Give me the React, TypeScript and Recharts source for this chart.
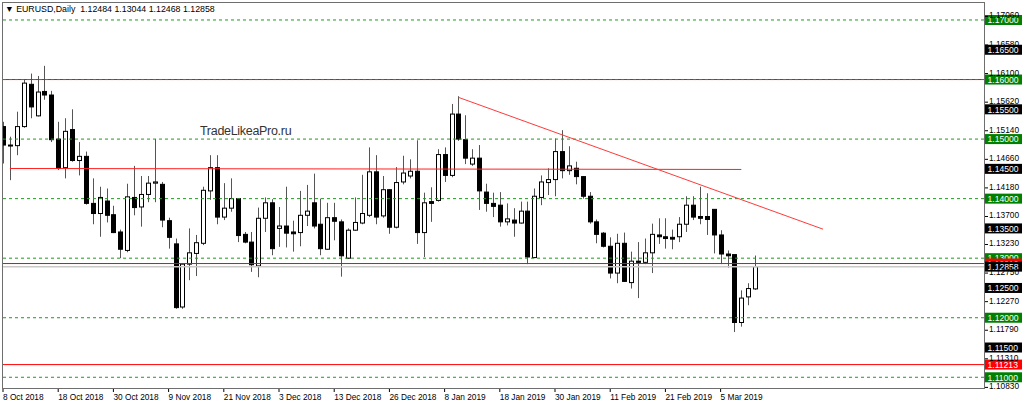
import React from 'react';
import { Bar, ComposedChart, ReferenceLine, XAxis, YAxis } from 'recharts';

// EURUSD daily, 8 Oct 2018 .. 12 Mar 2019
const opens = [
  1.1521, 1.1490, 1.1489, 1.1521, 1.1592, 1.1539, 1.1580, 1.1574, 1.1500, 1.1452,
  1.1516, 1.1464, 1.1471, 1.1392, 1.1375, 1.1396, 1.1373, 1.1344, 1.1313, 1.1402,
  1.1386, 1.1407, 1.1426, 1.1424, 1.1363, 1.1324, 1.1218, 1.1290, 1.1308, 1.1325,
  1.1413, 1.1452, 1.1369, 1.1384, 1.1400, 1.1340, 1.1327, 1.1287, 1.1367, 1.1393,
  1.1350, 1.1354, 1.1344, 1.1343, 1.1372, 1.1393, 1.1357, 1.1315, 1.1368, 1.1361,
  1.1300, 1.1347, 1.1359, 1.1372, 1.1445, 1.1371, 1.1415, 1.1352, 1.1428, 1.1438,
  1.1446, 1.1343, 1.1395, 1.1397, 1.1474, 1.1439, 1.1542, 1.1499, 1.1458, 1.1468,
  1.1411, 1.1392, 1.1389, 1.1361, 1.1364, 1.1359, 1.1379, 1.1301, 1.1402, 1.1427,
  1.1432, 1.1479, 1.1447, 1.1451, 1.1437, 1.1404, 1.1361, 1.1342, 1.1320, 1.1275,
  1.1325, 1.1259, 1.1295, 1.1293, 1.1309, 1.1339, 1.1336, 1.1335, 1.1336, 1.1357,
  1.1389, 1.1370, 1.1370, 1.1382, 1.1339, 1.1307, 1.1306, 1.1192, 1.1235, 1.12484,
];
const highs = [
  1.1529, 1.1504, 1.1546, 1.1600, 1.1610, 1.1606, 1.1623, 1.1581, 1.1529, 1.1535,
  1.1550, 1.1495, 1.1479, 1.1434, 1.1420, 1.1417, 1.1388, 1.1348, 1.1425, 1.1455,
  1.1438, 1.1438, 1.1500, 1.1428, 1.1368, 1.1333, 1.1291, 1.1350, 1.1339, 1.1420,
  1.1473, 1.1473, 1.1426, 1.1434, 1.1401, 1.1344, 1.1344, 1.1385, 1.1402, 1.1399,
  1.1386, 1.1420, 1.1363, 1.1413, 1.1423, 1.1442, 1.1400, 1.1393, 1.1393, 1.1365,
  1.1350, 1.1402, 1.1440, 1.1486, 1.1473, 1.1438, 1.1416, 1.1453, 1.1472, 1.1466,
  1.1498, 1.1410, 1.1419, 1.1483, 1.1486, 1.1559, 1.1572, 1.1540, 1.1483, 1.1490,
  1.1425, 1.1410, 1.1411, 1.1392, 1.1384, 1.1395, 1.1395, 1.1417, 1.1439, 1.1451,
  1.1501, 1.1515, 1.1488, 1.1462, 1.1438, 1.1411, 1.1365, 1.1344, 1.1335, 1.1341,
  1.1343, 1.1311, 1.1327, 1.1333, 1.1358, 1.1367, 1.1367, 1.1348, 1.1369, 1.1404,
  1.1404, 1.1420, 1.1409, 1.1382, 1.1347, 1.1313, 1.1306, 1.1246, 1.1258, 1.13044,
];
const lows = [
  1.1459, 1.1431, 1.1473, 1.1519, 1.1535, 1.1538, 1.1566, 1.1495, 1.1448, 1.1434,
  1.1462, 1.1439, 1.1390, 1.1357, 1.1336, 1.1360, 1.1342, 1.1300, 1.1310, 1.1372,
  1.1353, 1.1394, 1.1394, 1.1352, 1.1316, 1.1215, 1.1215, 1.1263, 1.1270, 1.1322,
  1.1398, 1.1357, 1.1364, 1.1378, 1.1327, 1.1325, 1.1277, 1.1268, 1.1344, 1.1305,
  1.1319, 1.1318, 1.1311, 1.1320, 1.1354, 1.1350, 1.1305, 1.1314, 1.1330, 1.1269,
  1.1299, 1.1346, 1.1357, 1.1369, 1.1357, 1.1368, 1.1341, 1.1350, 1.1424, 1.1434,
  1.1324, 1.1302, 1.1361, 1.1395, 1.1428, 1.1436, 1.1497, 1.1458, 1.1455, 1.1381,
  1.1378, 1.1369, 1.1353, 1.1355, 1.1336, 1.1358, 1.1290, 1.1300, 1.1389, 1.1406,
  1.1404, 1.1434, 1.1440, 1.1424, 1.1400, 1.1358, 1.1325, 1.1318, 1.1266, 1.1258,
  1.1260, 1.1249, 1.1233, 1.1290, 1.1275, 1.1324, 1.1316, 1.1315, 1.1327, 1.1344,
  1.1364, 1.1357, 1.1339, 1.1308, 1.1290, 1.1284, 1.1176, 1.1185, 1.1221, 1.12468,
];
const closes = [
  1.1490, 1.1489, 1.1521, 1.1594, 1.1554, 1.1579, 1.1574, 1.1499, 1.1451, 1.1513,
  1.1464, 1.1471, 1.1392, 1.1375, 1.1402, 1.1372, 1.1343, 1.1315, 1.1403, 1.1385,
  1.1407, 1.1426, 1.1428, 1.1364, 1.1335, 1.1217, 1.1290, 1.1309, 1.1326, 1.1414,
  1.1452, 1.1369, 1.1384, 1.1400, 1.1338, 1.1327, 1.1289, 1.1367, 1.1393, 1.1316,
  1.1354, 1.1342, 1.1341, 1.1372, 1.1379, 1.1354, 1.1316, 1.1368, 1.1362, 1.1304,
  1.1347, 1.1360, 1.1375, 1.1445, 1.1369, 1.1415, 1.1352, 1.1427, 1.1443, 1.1446,
  1.1343, 1.1393, 1.1392, 1.1474, 1.1439, 1.1542, 1.1500, 1.1468, 1.1468, 1.1413,
  1.1392, 1.1387, 1.1361, 1.1366, 1.1359, 1.1379, 1.1302, 1.1404, 1.1428, 1.1432,
  1.1479, 1.1447, 1.1455, 1.1437, 1.1404, 1.1361, 1.1340, 1.1320, 1.1275, 1.1325,
  1.1261, 1.1295, 1.1293, 1.1309, 1.1340, 1.1336, 1.1333, 1.1332, 1.1357, 1.1389,
  1.1369, 1.1367, 1.1365, 1.1339, 1.1307, 1.1304, 1.1192, 1.1233, 1.1249, 1.12858,
];

const dateTicks = [0, 8, 16, 24, 32, 40, 48, 56, 64, 72, 80, 88, 96, 104];
const dateLabels = [
  '8 Oct 2018', '18 Oct 2018', '30 Oct 2018', '9 Nov 2018', '21 Nov 2018', '3 Dec 2018', '13 Dec 2018',
  '26 Dec 2018', '8 Jan 2019', '18 Jan 2019', '30 Jan 2019', '11 Feb 2019', '21 Feb 2019', '5 Mar 2019',
];

const priceTicks = [1.1706, 1.1658, 1.161, 1.1562, 1.1514, 1.1466, 1.1418, 1.137, 1.1323, 1.1275, 1.1227, 1.1179, 1.1131, 1.1083];
const greenLevels = [1.17, 1.16, 1.15, 1.14, 1.13, 1.12, 1.11];
const blackTags = [1.165, 1.155, 1.145, 1.135, 1.125, 1.115];
const redLevels = [1.1291, 1.11213];
const resistance = 1.16;
const lastPrice = 1.12858;
const trendLine = [{ x: 66, y: 1.15701 }, { x: 118.84, y: 1.13487 }];
const flatLine = [{ x: 1, y: 1.14506 }, { x: 107, y: 1.1449 }];

const candles = opens.map((open, i) => ({
  i,
  open,
  high: highs[i],
  low: lows[i],
  close: closes[i],
  range: [lows[i], highs[i]],
}));

const FONT = '"Liberation Sans", Arial, sans-serif';

const Candle = (props: any) => {
  const { x, y, width, height, payload } = props;
  const { open, close, high, low } = payload;
  const cx = Math.round(x + width / 2) + 0.5;
  const k = height / (high - low);
  const yo = y + (high - open) * k;
  const yc = y + (high - close) * k;
  const top = Math.min(yo, yc);
  const h = Math.max(Math.abs(yo - yc), 1);
  const up = close >= open;
  return (
    <g>
      <line x1={cx} x2={cx} y1={y} y2={y + height} stroke="#555" strokeWidth={1} />
      <rect x={cx - 2} y={top} width={4} height={h} fill={up ? '#fff' : '#000'} stroke="#000" strokeWidth={1} />
    </g>
  );
};

const PriceTag = (props: any) => {
  const { viewBox, fill, text } = props;
  if (!viewBox) return null;
  const x = viewBox.x + viewBox.width + 1;
  const y = viewBox.y;
  return (
    <g>
      <rect x={x} y={y - 5} width={37} height={10} fill={fill} />
      <text x={x + 2.5} y={y + 3.3} fill="#fff" fontSize={8.6} fontFamily={FONT}>{text}</text>
    </g>
  );
};

const DateTick = (props: any) => {
  const { x, payload } = props;
  const idx = dateTicks.indexOf(payload.value);
  return (
    <g>
      <line x1={x} x2={x} y1={388} y2={392} stroke="#000" />
      <text x={x} y={400} fontSize={8.3} fontFamily={FONT} fill="#000">{dateLabels[idx]}</text>
    </g>
  );
};

const PriceTick = (props: any) => {
  const { y, payload } = props;
  const ty = Math.min(y + 2, 389);
  return (
    <g>
      <line x1={984} x2={988} y1={y} y2={y} stroke="#000" />
      <text x={989} y={ty} fontSize={8.3} fontFamily={FONT} fill="#000">{payload.value.toFixed(5)}</text>
    </g>
  );
};

export default function App() {
  return (
    <div style={{ position: 'fixed', left: 0, top: 0, width: 1024, height: 407, background: '#fff', fontFamily: FONT }}>
      <ComposedChart width={1024} height={407} data={candles} margin={{ top: 2, right: 0, bottom: 0, left: 3 }}>
        <XAxis
          dataKey="i"
          type="number"
          domain={[0, 142.17]}
          allowDataOverflow
          ticks={dateTicks}
          interval={0}
          tick={<DateTick />}
          tickLine={false}
          axisLine={false}
          height={19}
        />
        <YAxis
          orientation="right"
          type="number"
          domain={[1.1082, 1.17302]}
          allowDataOverflow
          ticks={priceTicks}
          interval={0}
          tick={<PriceTick />}
          tickLine={false}
          axisLine={false}
          width={40}
        />
        <ReferenceLine y={resistance} stroke="#ff0000" strokeWidth={1} />
        {redLevels.map((p) => (
          <ReferenceLine key={'r' + p} y={p} stroke="#ff0000" strokeWidth={1} />
        ))}
        <ReferenceLine y={lastPrice} stroke="#c8c8c8" strokeWidth={1.5} />
        {greenLevels.map((p) => (
          <ReferenceLine key={'g' + p} y={p} stroke="#1f9a1f" strokeDasharray="3 3" strokeWidth={1} />
        ))}
        <ReferenceLine segment={flatLine} stroke="#ff2020" strokeWidth={1} ifOverflow="visible" />
        <ReferenceLine segment={trendLine} stroke="#ff3a3a" strokeWidth={1} ifOverflow="visible" />
        <Bar dataKey="range" barSize={5} shape={<Candle />} isAnimationActive={false} />
        {blackTags.map((p) => (
          <ReferenceLine key={'b' + p} y={p} stroke="none" label={<PriceTag fill="#000" text={p.toFixed(5)} />} />
        ))}
        {greenLevels.map((p) => (
          <ReferenceLine key={'gt' + p} y={p} stroke="none" label={<PriceTag fill="#008000" text={p.toFixed(5)} />} />
        ))}
        {redLevels.map((p) => (
          <ReferenceLine key={'rt' + p} y={p} stroke="none" label={<PriceTag fill="#ff0000" text={p.toFixed(5)} />} />
        ))}
        <ReferenceLine y={lastPrice} stroke="none" label={<PriceTag fill="#000" text={lastPrice.toFixed(5)} />} />
      </ComposedChart>
      <div style={{ position: 'absolute', left: 2, top: 2, width: 981, height: 385, border: '1px solid #6e6e6e', pointerEvents: 'none' }} />
      <div style={{ position: 'absolute', left: 5, top: 3, fontSize: 8.8, lineHeight: '12px', color: '#000', whiteSpace: 'pre' }}>
        {'\u25BC EURUSD,Daily  1.12484 1.13044 1.12468 1.12858'}
      </div>
      <div style={{ position: 'absolute', left: 200, top: 124, fontSize: 12.5, color: '#333', letterSpacing: -0.3 }}>
        TradeLikeaPro.ru
      </div>
    </div>
  );
}
